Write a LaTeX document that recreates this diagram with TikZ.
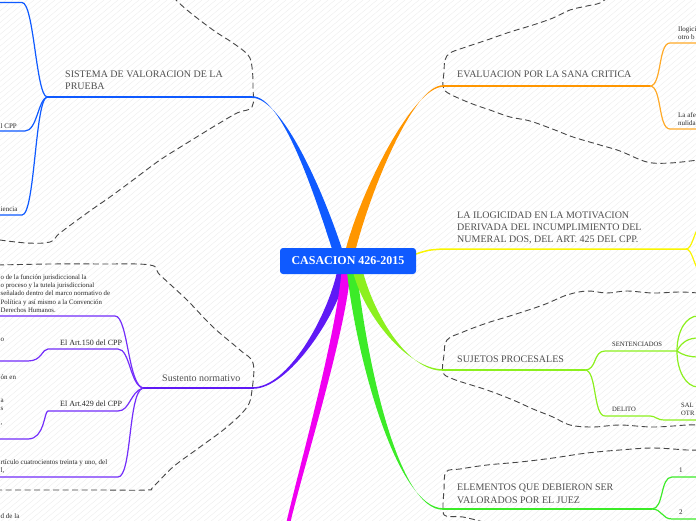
\documentclass[tikz,border=0pt]{standalone}
\usepackage{fontspec}
\setmainfont{Liberation Serif}
\definecolor{cBlue}{RGB}{15,90,255}
\definecolor{cOrange}{RGB}{255,150,0}
\definecolor{cOrangeL}{RGB}{255,170,40}
\definecolor{cYellow}{RGB}{250,245,0}
\definecolor{cLime}{RGB}{140,240,30}
\definecolor{cGreen}{RGB}{60,235,40}
\definecolor{cPurple}{RGB}{95,25,245}
\definecolor{cPurpleL}{RGB}{115,45,250}
\definecolor{cMagenta}{RGB}{240,0,240}
\definecolor{cLabel}{RGB}{80,80,80}
\definecolor{cText}{RGB}{40,40,40}
\definecolor{cBound}{RGB}{70,70,70}
\definecolor{cBg}{RGB}{238,238,238}
\tikzset{
  bgl/.style={draw=cBg, line width=0.4pt},
  lbl/.style={text=cLabel, font=\fontsize{10}{12}\selectfont, anchor=base west, inner sep=0pt},
  sm/.style={text=cText, font=\fontsize{7}{8}\selectfont, anchor=base west, inner sep=0pt},
  sme/.style={sm, anchor=base east},
  caps/.style={sm, font=\fontsize{6.6}{7}\selectfont},
  bound/.style={draw=cBound, line width=0.9pt, dash pattern=on 6pt off 3.5pt},
  sub/.style={line width=1.2pt},
  hline/.style={line width=1.5pt}
}
\begin{document}
\begin{tikzpicture}[x=1pt,y=-1pt]
\useasboundingbox (0,0) rectangle (696,520);
\fill[white] (0,0) rectangle (696,520);
\begin{scope}
\clip (0,0) rectangle (696,520);
\foreach \i in {-90,...,100} \draw[bgl] (\i*7,522) -- ++(622,-522);

% ---------- dashed boundaries ----------
\draw[bound] plot[smooth, tension=0.6] coordinates {(173,-3) (187,10) (213,30) (233,43) (248,55) (252,67) (253,87) (252,107) (237,113) (213,127) (187,143) (160,160) (133,180) (110,197) (87,213) (60,233) (50,242) (27,243) (0,240)};
\draw[bound] plot[smooth, tension=0.6] coordinates {(608,-3) (600,3) (587,6) (570,10) (553,18) (533,25) (510,32) (487,40) (463,48) (450,53) (445,60) (444,72) (443,86) (448,93) (470,103) (490,110) (510,117) (530,121) (555,130) (573,137) (600,145) (620,151) (647,162) (670,163) (698,160)};
\draw[bound] plot[smooth, tension=0.6] coordinates {(698,293) (680,292) (653,293) (627,291) (607,293) (587,291) (567,295) (543,305) (513,315) (487,323) (463,332) (447,340) (444,355) (443,372) (453,379) (487,390) (513,400) (533,409) (553,417) (570,425) (593,427) (620,425) (653,427) (687,425) (698,425)};
\draw[bound] plot[smooth, tension=0.6] coordinates {(698,450) (687,450) (653,448) (620,450) (587,453) (553,458) (520,462) (487,465) (460,469) (446,472) (444,490) (443,509) (446,516) (463,517) (487,523)};
\draw[bound] plot[smooth, tension=0.6] coordinates {(-2,265) (50,264) (100,264) (150,265) (160,275) (187,300) (213,327) (240,350) (253,363) (252,390) (247,407) (227,427) (200,447) (173,467) (153,487) (147,490) (100,490) (50,490) (-2,490)};

% ---------- named points ----------
\coordinate (bS) at (338,252); \coordinate (bE) at (252,97);
\coordinate (oS) at (350,252); \coordinate (oE) at (443,86);
\coordinate (pS) at (342,272); \coordinate (pE) at (253,388);
\coordinate (mS) at (346,272); \coordinate (mE) at (288,524);
\coordinate (gS) at (352,272); \coordinate (gE) at (443,509);
\coordinate (lS) at (358,272); \coordinate (lE) at (443,370);
\coordinate (yS) at (416,254); \coordinate (yE) at (443,249);
\coordinate (jS) at (47,97);
\coordinate (jO) at (650,86);
\coordinate (jY) at (686,249);
\coordinate (jL) at (585,370);
\coordinate (jSe) at (677,351);
\coordinate (jG) at (652,509);
\coordinate (jP) at (143,388);

% ---------- tapered main branches ----------
\fill[cBlue] ([xshift=-5pt]bS) .. controls +(-20,-62) and +(30,0) .. ([yshift=0.8pt]bE) -- ([yshift=-0.8pt]bE) .. controls +(30,0) and +(-20,-62) .. ([xshift=5pt]bS) -- cycle;
\fill[cOrange] ([xshift=-5pt]oS) .. controls +(15,-60) and +(-30,0) .. ([yshift=-0.8pt]oE) -- ([yshift=0.8pt]oE) .. controls +(-30,0) and +(15,-60) .. ([xshift=5pt]oS) -- cycle;
\fill[cPurple] ([xshift=-5pt]pS) .. controls +(-10,45) and +(35,0) .. ([yshift=0.8pt]pE) -- ([yshift=-0.8pt]pE) .. controls +(35,0) and +(-10,45) .. ([xshift=5pt]pS) -- cycle;
\fill[cMagenta] ([xshift=-4.5pt]mS) .. controls +(-6,66) and +(12,-52) .. ([xshift=-2pt]mE) -- ([xshift=2pt]mE) .. controls +(12,-52) and +(-6,66) .. ([xshift=4.5pt]mS) -- cycle;
\fill[cGreen] ([xshift=-5pt]gS) .. controls +(10,90) and +(-45,0) .. ([yshift=0.8pt]gE) -- ([yshift=-0.8pt]gE) .. controls +(-45,0) and +(10,90) .. ([xshift=5pt]gS) -- cycle;
\fill[cLime] ([xshift=-5pt]lS) .. controls +(12,45) and +(-35,0) .. ([yshift=0.8pt]lE) -- ([yshift=-0.8pt]lE) .. controls +(-35,0) and +(12,45) .. ([xshift=5pt]lS) -- cycle;
\draw[cYellow, hline] (yS) .. controls (428,250) .. (yE) -- (jY);

% ---------- horizontal main lines ----------
\draw[cBlue, hline] (bE) -- (jS);
\draw[cOrange, hline] (oE) -- (jO);
\draw[cPurple, hline] (pE) -- (jP);
\draw[cLime, hline] (lE) -- (jL);
\draw[cGreen, hline] (gE) -- (jG);

% ---------- sub branches ----------
\draw[cBlue, sub] (jS) .. controls +(-11,-2) and +(12,0) .. (22,2.5) -- (-2,2.5);
\draw[cBlue, sub] (jS) .. controls +(-9,3) and +(12,0) .. (25,131) -- (-2,131);
\draw[cBlue, sub] (jS) .. controls +(-12,3) and +(13,0) .. (22,215) -- (-2,215);
\draw[cOrangeL, sub] (jO) .. controls +(12,0) and +(-12,0) .. (670,43) -- (698,43);
\draw[cOrangeL, sub] (jO) .. controls +(12,0) and +(-12,0) .. (670,129) -- (698,129);
\draw[cYellow, sub] (jY) .. controls +(6,0) and +(-4,4) .. (698,229);
\draw[cYellow, sub] (jY) .. controls +(6,0) and +(-4,-4) .. (698,269);
\draw[cLime, sub] (jL) .. controls +(12,0) and +(-12,0) .. (605,351) -- (jSe);
\draw[cLime, sub] (jL) .. controls +(12,0) and +(-12,0) .. (605,416) -- (650,416) .. controls (656,416) and (656,420) .. (665,420) -- (698,420);
\draw[cLime, sub] (jSe) .. controls +(0,-20) and +(-12,0) .. (698,316);
\draw[cLime, sub] (jSe) .. controls +(5,-10) and +(-8,0) .. (698,338);
\draw[cLime, sub] (jSe) .. controls +(7,5) and +(-6,0) .. (698,357);
\draw[cLime, sub] (jSe) .. controls +(0,20) and +(-12,0) .. (698,387);
\draw[cGreen, sub] (jG) .. controls +(12,0) and +(-12,0) .. (672,477) -- (698,477);
\draw[cGreen, sub] (jG) .. controls +(10,0) and +(-10,0) .. (672,519) -- (698,519);
\draw[cPurpleL, sub] (jP) .. controls +(-15,-3) and +(13,0) .. (115,316) -- (-2,316);
\draw[cPurpleL, sub] (jP) .. controls +(-13,-3) and +(12,0) .. (118,349) -- (48,349) .. controls (42,349) and (42,361) .. (28,361) -- (-2,361);
\draw[cPurpleL, sub] (jP) .. controls +(-13,4) and +(12,0) .. (118,411) -- (48,411) .. controls (44,411) and (45,439) .. (28,439) -- (-2,439);
\draw[cPurpleL, sub] (jP) .. controls +(-15,4) and +(14,0) .. (118,477) -- (-2,477);

% ---------- labels ----------
\node[lbl] (t1a) at (65,77) {SISTEMA DE VALORACION DE LA};
\node[lbl] (t1b) at (65,89) {PRUEBA};
\node[lbl] (t2) at (457,77) {EVALUACION POR LA SANA CRITICA};
\node[lbl] (t3a) at (457,218) {LA ILOGICIDAD EN LA MOTIVACION};
\node[lbl] (t3b) at (457,230) {DERIVADA DEL INCUMPLIMIENTO DEL};
\node[lbl] (t3c) at (457,242) {NUMERAL DOS, DEL ART. 425 DEL CPP.};
\node[lbl] (t4) at (457,362) {SUJETOS PROCESALES};
\node[lbl] (t5a) at (457,490) {ELEMENTOS QUE DEBIERON SER};
\node[lbl] (t5b) at (457,503) {VALORADOS POR EL JUEZ};
\node[lbl] (t6) at (162,381) {Sustento normativo};

\node[sm] (a1) at (0.5,128) {l CPP};
\node[sm] (a2) at (0.5,211) {iencia};
\node[sm] (b1) at (678,31) {Ilogici};
\node[sm] (b2) at (678,39) {otro b};
\node[sm] (b3) at (678,117) {La afe};
\node[sm] (b4) at (678,125) {nulida};
\node[caps] (c1) at (612,346) {SENTENCIADOS};
\node[caps] (c2) at (612,411) {DELITO};
\node[caps] (c3) at (681,407) {SAL};
\node[caps] (c4) at (681,415) {OTR};
\node[sm] (d1) at (679,472) {1};
\node[sm] (d2) at (679,514) {2};
\node[sm, font=\fontsize{6.8}{8}\selectfont] (e1) at (0.5,279) {o de la función jurisdiccional la};
\node[sm, font=\fontsize{6.8}{8}\selectfont] (e2) at (0.5,287) {o proceso y la tutela jurisdiccional};
\node[sm, font=\fontsize{6.8}{8}\selectfont] (e3) at (0.5,295.5) {señalado dentro del marco normativo de};
\node[sm, font=\fontsize{6.8}{8}\selectfont] (e4) at (0.5,304) {Política y así mismo a la Convención};
\node[sm, font=\fontsize{6.8}{8}\selectfont] (e5) at (0.5,312) {Derechos Humanos.};
\node[sm, font=\fontsize{8}{9}\selectfont] (e6) at (60,345.5) {El Art.150 del CPP};
\node[sm, font=\fontsize{8}{9}\selectfont] (e7) at (60,406.5) {El Art.429 del CPP};
\node[sm] (e8) at (0.5,341) {o};
\node[sm] (e9) at (0.5,379) {ón en};
\node[sm] (e10) at (0.5,402) {a};
\node[sm] (e11) at (0.5,410) {s};
\node[sm] (e12) at (0.5,424) {,};
\node[sm] (e13) at (0.5,464) {rtículo cuatrocientos treinta y uno, del};
\node[sm] (e14) at (0.5,472) {l,};
\node[sm] (e15) at (0.5,518.5) {d de la};
\end{scope}

\node[fill=cBlue, rounded corners=3pt, minimum width=136pt, minimum height=26pt, inner sep=0pt,
  text=white, font=\bfseries\fontsize{12}{14}\selectfont] (c) at (348,261) {CASACION 426-2015};
\end{tikzpicture}
\end{document}
